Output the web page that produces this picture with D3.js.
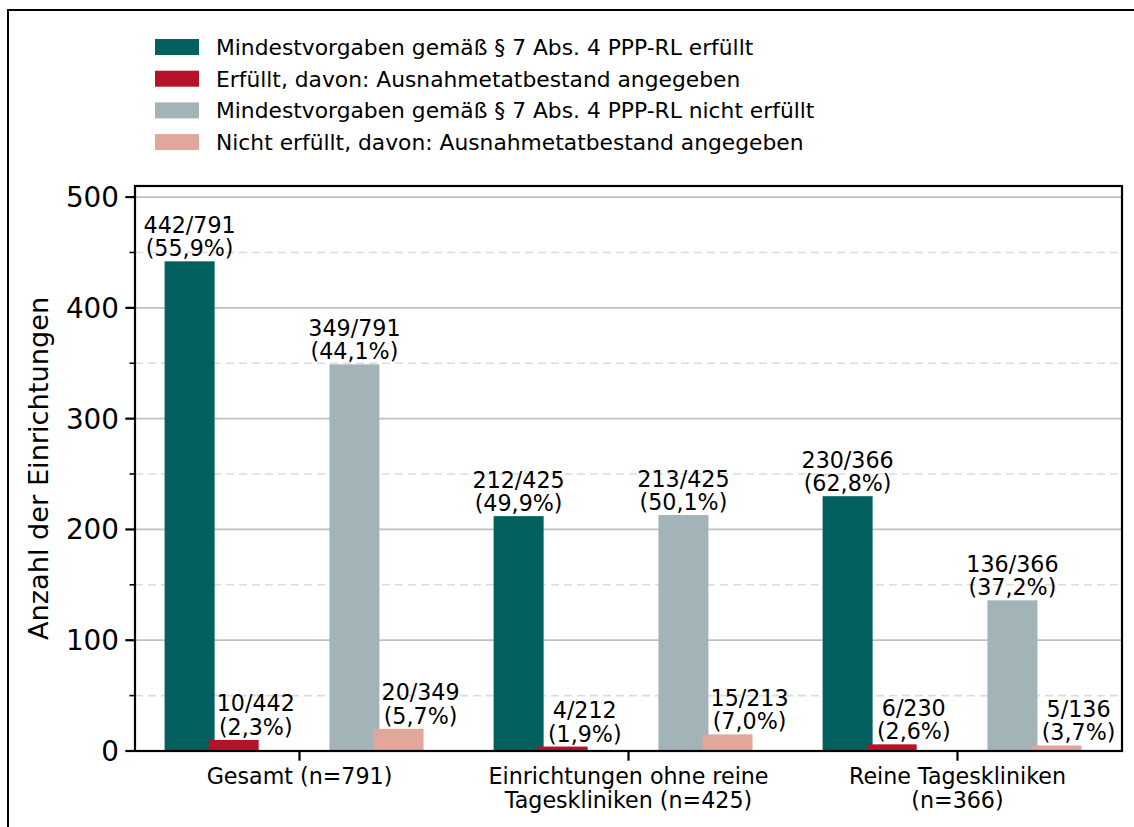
<!DOCTYPE html>
<html>
<head>
<meta charset="utf-8">
<script src="https://cdn.jsdelivr.net/npm/d3@7"></script>
<style>
  html, body { margin: 0; padding: 0; background: #fff; }
  svg { display: block; font-family: "DejaVu Sans", sans-serif; }
</style>
</head>
<body>
<svg id="chart" width="1134" height="827"></svg>
<script>
// DATA
const groups = [
  ["Gesamt (n=791)"],
  ["Einrichtungen ohne reine", "Tageskliniken (n=425)"],
  ["Reine Tageskliniken", "(n=366)"]
];
const totals = [791, 425, 366];
const erfuellt = [442, 212, 230];
const erfuelltAusnahme = [10, 4, 6];
const nichtErfuellt = [349, 213, 136];
const nichtAusnahme = [20, 15, 5];

const legendLabels = [
  "Mindestvorgaben gemäß § 7 Abs. 4 PPP-RL erfüllt",
  "Erfüllt, davon: Ausnahmetatbestand angegeben",
  "Mindestvorgaben gemäß § 7 Abs. 4 PPP-RL nicht erfüllt",
  "Nicht erfüllt, davon: Ausnahmetatbestand angegeben"
];
const colors = ["#02605f", "#b51328", "#a2b4b8", "#e2a79b"];
const yTicks = [0, 100, 200, 300, 400, 500];
const yMinor = [50, 150, 250, 350, 450];

// LAYOUT
const plot = { left: 135, top: 186, right: 1122, bottom: 751 };
const svg = d3.select("#chart");

const x = d3.scaleLinear().domain([-0.5, 2.5]).range([plot.left, plot.right]);
const y = d3.scaleLinear().domain([0, 510]).range([plot.bottom, plot.top]);
const barW = x(0.152) - x(0);

const pct = (a, b) => (a / b * 100).toFixed(1).replace(".", ",");

// series: value, denominator, group offset, label shift
const series = [
  { vals: erfuellt, den: totals, off: -0.334, shift: 0 },
  { vals: erfuelltAusnahme, den: erfuellt, off: -0.2, shift: 0.067 },
  { vals: nichtErfuellt, den: totals, off: 0.167, shift: 0 },
  { vals: nichtAusnahme, den: nichtErfuellt, off: 0.301, shift: 0.067 }
];

// outer frame
svg.append("rect")
  .attr("x", 8).attr("y", 10)
  .attr("width", 1200).attr("height", 900)
  .attr("fill", "none").attr("stroke", "#000").attr("stroke-width", 2);

// GRID
svg.append("g").selectAll("line")
  .data(yMinor).join("line")
  .attr("x1", plot.left).attr("x2", plot.right)
  .attr("y1", d => y(d)).attr("y2", d => y(d))
  .attr("stroke", "#dcdcdc").attr("stroke-width", 1.6)
  .attr("stroke-dasharray", "8,5");

svg.append("g").selectAll("line")
  .data(yTicks.filter(d => d > 0)).join("line")
  .attr("x1", plot.left).attr("x2", plot.right)
  .attr("y1", d => y(d)).attr("y2", d => y(d))
  .attr("stroke", "#c0c0c0").attr("stroke-width", 1.8);

// BARS
series.forEach((s, si) => {
  const g = svg.append("g");
  g.selectAll("rect")
    .data(s.vals).join("rect")
    .attr("x", (d, i) => x(i + s.off) - barW / 2)
    .attr("y", d => y(d))
    .attr("width", barW)
    .attr("height", d => y(0) - y(d))
    .attr("fill", colors[si]);

  const lab = g.selectAll("text")
    .data(s.vals).join("text")
    .attr("x", (d, i) => x(i + s.off + s.shift))
    .attr("y", d => y(d) - 5)
    .attr("text-anchor", "middle")
    .attr("font-size", 22.2)
    .attr("fill", "#000");
  lab.append("tspan")
    .attr("x", (d, i) => x(i + s.off + s.shift))
    .attr("dy", -23.5)
    .text((d, i) => `${d}/${s.den[i]}`);
  lab.append("tspan")
    .attr("x", (d, i) => x(i + s.off + s.shift))
    .attr("dy", 23.5)
    .text((d, i) => `(${pct(d, s.den[i])}%)`);
});

// AXES FRAME
svg.append("rect")
  .attr("x", plot.left).attr("y", plot.top)
  .attr("width", plot.right - plot.left).attr("height", plot.bottom - plot.top)
  .attr("fill", "none").attr("stroke", "#000").attr("stroke-width", 2.2);

// Y AXIS
const yAxis = svg.append("g");
yAxis.selectAll("line.major")
  .data(yTicks).join("line")
  .attr("class", "major")
  .attr("x1", plot.left - 9.7).attr("x2", plot.left)
  .attr("y1", d => y(d)).attr("y2", d => y(d))
  .attr("stroke", "#000").attr("stroke-width", 2.2);
yAxis.selectAll("line.minor")
  .data(yMinor).join("line")
  .attr("class", "minor")
  .attr("x1", plot.left - 5.5).attr("x2", plot.left)
  .attr("y1", d => y(d)).attr("y2", d => y(d))
  .attr("stroke", "#000").attr("stroke-width", 1.6);
yAxis.selectAll("text")
  .data(yTicks).join("text")
  .attr("x", plot.left - 16)
  .attr("y", d => y(d))
  .attr("dy", "0.36em")
  .attr("text-anchor", "end")
  .attr("font-size", 27.8)
  .text(d => d);

svg.append("text")
  .attr("transform", `translate(48,${(plot.top + plot.bottom) / 2}) rotate(-90)`)
  .attr("text-anchor", "middle")
  .attr("font-size", 27.2)
  .text("Anzahl der Einrichtungen");

// X AXIS
const xAxis = svg.append("g");
xAxis.selectAll("line")
  .data(groups).join("line")
  .attr("x1", (d, i) => x(i)).attr("x2", (d, i) => x(i))
  .attr("y1", plot.bottom).attr("y2", plot.bottom + 9.7)
  .attr("stroke", "#000").attr("stroke-width", 2.2);
xAxis.selectAll("text")
  .data(groups).join("text")
  .attr("text-anchor", "middle")
  .attr("font-size", 22.2)
  .each(function(lines, i) {
    d3.select(this).selectAll("tspan")
      .data(lines).join("tspan")
      .attr("x", x(i))
      .attr("y", (l, k) => 784 + k * 24)
      .text(l => l);
  });

// LEGEND
const legend = svg.append("g");
const lg = legend.selectAll("g")
  .data(legendLabels).join("g")
  .attr("transform", (d, i) => `translate(155,${47 + i * 31.7})`);
lg.append("rect")
  .attr("x", 0).attr("y", -8)
  .attr("width", 44).attr("height", 16)
  .attr("fill", (d, i) => colors[i]);
lg.append("text")
  .attr("x", 61).attr("y", 0)
  .attr("dy", "0.36em")
  .attr("font-size", 21.8)
  .text(d => d);
</script>
</body>
</html>
